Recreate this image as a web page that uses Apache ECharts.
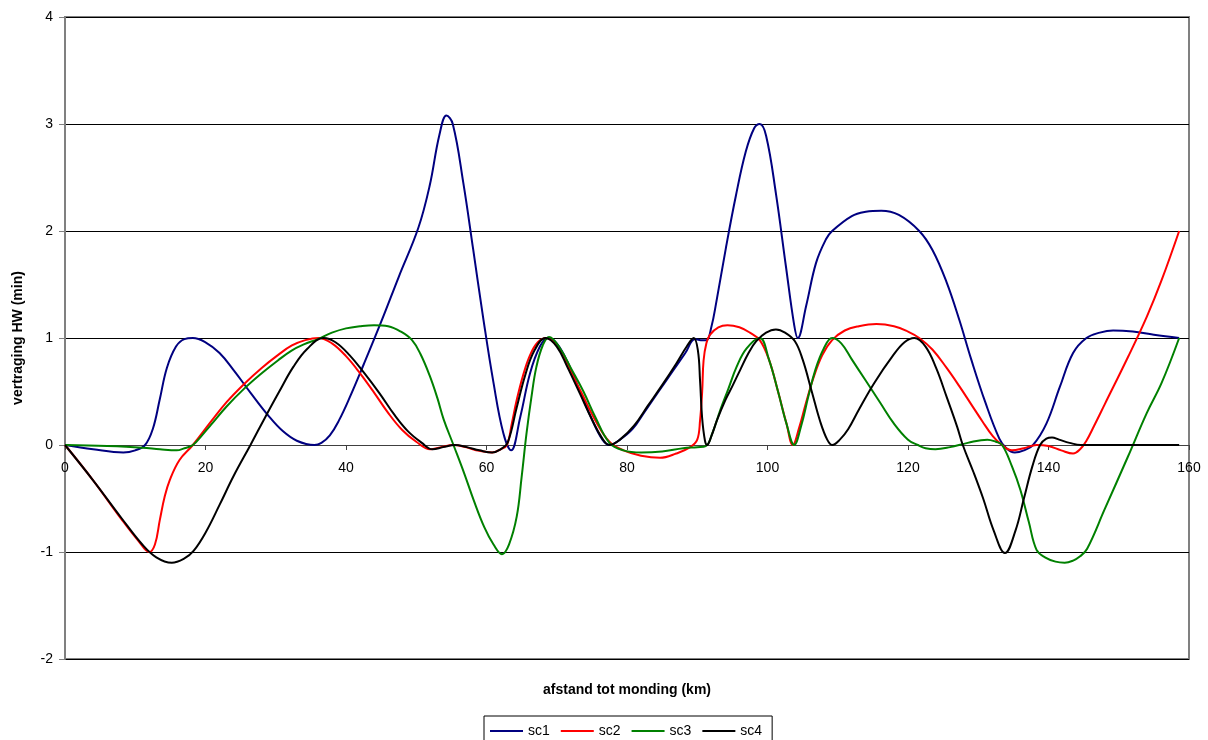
<!DOCTYPE html>
<html>
<head>
<meta charset="utf-8">
<script src="https://cdn.jsdelivr.net/npm/echarts@6/dist/echarts.min.js"></script>
<style>
html,body{margin:0;padding:0;background:#fff;}
#chart{width:1208px;height:740px;}
</style>
</head>
<body>
<div id="chart"></div>
<script>
// afstand tot monding (km) and vertraging HW (min)
const sc1Km = [0,4,8.3,10,11.4,12.5,13.5,14.5,15.8,17,18.2,20,22,24,26.5,29,31,33,35.5,36.5,37.7,39,40.5,42.5,45,47.5,50.3,51.9,53.3,54.3,55.2,56.7,58.1,59.5,61,62.4,63.5,64.8,66.2,67.6,68.8,70,71.5,73.3,75,76.5,77.5,79,80.8,82.5,84.5,86.5,88.3,89.7,90.5,91.3,92,92.7,94.1,95.5,96.9,98.1,98.9,99.8,101.2,102.6,103.8,104.3,105.5,106.9,108.3,109.2,112,114,116.2,118.7,121.6,123.5,125.5,127.3,129,131,133,134,135.2,136.5,137.8,139.7,141.6,143.5,145.4,147.3,149.2,152,155,158.6];
const sc1   = [0,-0.04,-0.07,-0.05,0,0.15,0.43,0.72,0.92,0.99,1,0.96,0.86,0.7,0.48,0.27,0.13,0.04,0,0.02,0.09,0.23,0.44,0.75,1.15,1.57,2.03,2.42,2.9,3.08,3.0,2.45,1.83,1.2,0.58,0.11,-0.05,0.26,0.67,0.92,1,0.95,0.78,0.5,0.24,0.05,0,0.05,0.15,0.31,0.5,0.69,0.86,0.99,0.98,0.98,1.1,1.33,1.85,2.33,2.74,2.96,3,2.89,2.35,1.68,1.12,1.0,1.3,1.7,1.92,2.0,2.14,2.18,2.19,2.15,2.0,1.82,1.52,1.17,0.8,0.4,0.06,-0.03,-0.07,-0.05,0,0.2,0.54,0.86,1.0,1.05,1.07,1.06,1.03,1.0];

const sc2Km = [0,4,8,10.5,12,12.8,13.5,14.2,14.9,16.3,18.2,20.8,23,25.5,28,30.3,32.3,34.2,36.1,38,40,42,44,46,48,50,52,53.5,55.3,57,59,60.8,62,62.9,63.6,64.3,65.2,66.2,67.3,68.5,70,71.5,73.5,75.5,77.5,79.5,82,84.7,87,89,90,90.4,90.7,90.9,91.3,91.8,93,94.3,96,97.5,98.9,100.2,101.5,102.7,103.6,104.5,105.5,106.5,107.8,109.2,111,113,115.5,118,120,121.6,123.5,125.5,127.3,129,130.6,132.1,133.2,134.8,136.5,138.3,140,141.8,143.5,144.5,145.4,146.5,148,151.3,154,156.1,158.6];
const sc2   = [0,-0.33,-0.69,-0.9,-1,-0.93,-0.7,-0.48,-0.33,-0.14,0,0.22,0.4,0.57,0.72,0.84,0.93,0.98,1,0.95,0.83,0.67,0.49,0.3,0.14,0.03,-0.04,-0.02,0,-0.02,-0.055,-0.07,-0.04,0,0.2,0.42,0.65,0.84,0.96,1,0.93,0.75,0.49,0.23,0.03,-0.05,-0.1,-0.12,-0.08,-0.02,0.05,0.23,0.5,0.79,0.95,1.03,1.1,1.12,1.1,1.05,0.98,0.8,0.5,0.2,0,0.16,0.4,0.62,0.84,0.98,1.07,1.11,1.13,1.11,1.06,1,0.89,0.72,0.55,0.38,0.22,0.08,0.01,-0.05,-0.03,0,-0.01,-0.05,-0.08,-0.04,0.04,0.18,0.38,0.82,1.2,1.54,2];

const sc3Km = [0,6,11,13.5,15.9,17,18.2,19.5,20.8,23,25.4,28,30.3,32.2,34,36,38,40,42,44,46,47.8,49.4,50.6,51.9,53,53.9,55.3,56.8,58.2,59.7,61,62.2,63.2,64.3,65,65.7,66.4,67.1,68,68.9,70.5,72,73.8,75.5,77.5,79.5,82,85,88,90,91.2,92.2,93.3,94.4,95.6,97,98.9,100.2,101.5,102.7,103.8,104.8,105.8,106.8,108,109.2,110.5,112,114,116,118,120,121.4,122.5,123.9,126,128.5,131.3,132.5,133.4,134.8,136,137.2,138.3,139.5,141,142.3,143.5,144.5,145.5,148,151.3,154,156.1,158.6];
const sc3   = [0,-0.01,-0.025,-0.04,-0.05,-0.03,0,0.09,0.19,0.36,0.52,0.67,0.79,0.88,0.94,0.99,1.05,1.09,1.11,1.12,1.11,1.06,0.98,0.85,0.65,0.44,0.24,0,-0.26,-0.52,-0.77,-0.93,-1.02,-0.93,-0.67,-0.3,0.11,0.45,0.73,0.93,1.01,0.9,0.72,0.5,0.26,0.02,-0.05,-0.07,-0.06,-0.03,-0.02,-0.01,0.12,0.33,0.52,0.73,0.9,1,0.8,0.5,0.2,0,0.18,0.45,0.7,0.9,1,0.95,0.8,0.6,0.4,0.2,0.05,0,-0.03,-0.04,-0.02,0.02,0.05,0.03,0,-0.2,-0.42,-0.72,-0.98,-1.05,-1.09,-1.1,-1.08,-1.04,-0.97,-0.6,-0.11,0.3,0.58,1];

const sc4Km = [0,4,8,11,13,15.2,17,18.3,20,22,24,26.4,28.5,30.5,32.5,34.5,36.8,38.5,40.5,42.5,44.8,46.8,48.8,50.8,52.3,53.8,55.5,57.2,59,60.8,62,63,64.3,65.5,66.8,68.4,70,71.5,73.3,75,76.5,77.5,79,81,83,85,87,88.5,89.5,90.1,90.4,90.7,91.1,91.4,92,92.8,94,95,96.1,97.3,98.4,99.8,101.2,102.5,103.9,105,106.3,107.5,108.5,109.2,110.3,111.5,113,115.2,117.8,119.5,120.9,122.5,124,125.5,127,127.8,129.3,130.7,132.2,133.8,135.3,136.5,137.7,138.8,139.7,140.5,141.5,143,144.6,158.6];
const sc4   = [0,-0.33,-0.68,-0.93,-1.05,-1.1,-1.06,-0.99,-0.82,-0.56,-0.29,0,0.26,0.5,0.73,0.9,1,0.96,0.84,0.68,0.48,0.29,0.13,0.02,-0.04,-0.02,0,-0.02,-0.05,-0.07,-0.04,0.02,0.35,0.65,0.88,1,0.92,0.73,0.48,0.24,0.06,0,0.05,0.18,0.37,0.56,0.76,0.92,1,0.88,0.6,0.25,0.04,0,0.08,0.23,0.42,0.55,0.7,0.86,0.97,1.05,1.08,1.05,0.97,0.8,0.5,0.22,0.05,0,0.05,0.15,0.33,0.58,0.83,0.96,1,0.92,0.72,0.45,0.17,0,-0.25,-0.5,-0.8,-1.01,-0.8,-0.5,-0.2,0,0.06,0.07,0.05,0.02,0,0];

const seriesNames = ['sc1', 'sc2', 'sc3', 'sc4'];
const xTicks = [0, 20, 40, 60, 80, 100, 120, 140, 160];
const yTicks = [-2, -1, 0, 1, 2, 3, 4];

const colors = ['#000080', '#ff0000', '#008000', '#000000'];
const allKm = [sc1Km, sc2Km, sc3Km, sc4Km];
const allVals = [sc1, sc2, sc3, sc4];
const FONT = 'Liberation Sans, Arial, sans-serif';

const chart = echarts.init(document.getElementById('chart'));
const gridTop = 17, gridBottom = 81, chartH = 740;
const plotH = chartH - gridTop - gridBottom;
// distance of the zero line above the plot bottom
const zeroOffset = plotH * (0 - yTicks[0]) / (yTicks[yTicks.length - 1] - yTicks[0]);

chart.setOption({
  animation: false,
  backgroundColor: '#ffffff',
  grid: {
    left: 65, right: 19, top: gridTop, bottom: gridBottom,
    show: true, borderColor: '#808080', borderWidth: 2, backgroundColor: 'transparent'
  },
  xAxis: {
    type: 'value',
    position: 'bottom',
    offset: -zeroOffset,
    min: xTicks[0], max: xTicks[xTicks.length - 1], interval: 20,
    axisLine: { show: true, onZero: false, lineStyle: { color: '#404040', width: 1 } },
    axisTick: { show: true, length: 5, inside: false, lineStyle: { color: '#404040' } },
    axisLabel: { color: '#000', fontFamily: FONT, fontSize: 14, margin: 16 },
    splitLine: { show: false }
  },
  yAxis: {
    type: 'value',
    min: yTicks[0], max: yTicks[yTicks.length - 1], interval: 1,
    name: 'vertraging HW (min)',
    nameLocation: 'middle',
    nameGap: 40,
    nameTextStyle: { fontFamily: FONT, fontSize: 14, fontWeight: 'bold', color: '#000' },
    axisLine: { show: true, lineStyle: { color: '#808080', width: 2 } },
    axisTick: { show: true, length: 6, lineStyle: { color: '#808080', width: 1 } },
    axisLabel: { color: '#000', fontFamily: FONT, fontSize: 14, margin: 12 },
    splitLine: { show: true, lineStyle: { color: '#000', width: 1 } }
  },
  legend: {
    data: seriesNames,
    left: 484, top: 716,
    orient: 'horizontal',
    icon: 'rect',
    borderColor: '#000', borderWidth: 1,
    padding: [8, 10, 8, 6],
    itemWidth: 33, itemHeight: 2, itemGap: 11,
    textStyle: { fontFamily: FONT, fontSize: 14, color: '#000' }
  },
  graphic: [{
    type: 'text', x: 627, y: 690,
    style: { text: 'afstand tot monding (km)', align: 'center', verticalAlign: 'middle',
             font: 'bold 14px Liberation Sans, Arial, sans-serif', fill: '#000' }
  }],
  series: allVals.map((vals, i) => ({
    name: seriesNames[i],
    type: 'line',
    data: vals.map((v, j) => [allKm[i][j], v]),
    smooth: 0.4,
    symbol: 'none',
    clip: false,
    lineStyle: { color: colors[i], width: 2 },
    itemStyle: { color: colors[i] },
    z: 3 + i
  }))
});
</script>
</body>
</html>
